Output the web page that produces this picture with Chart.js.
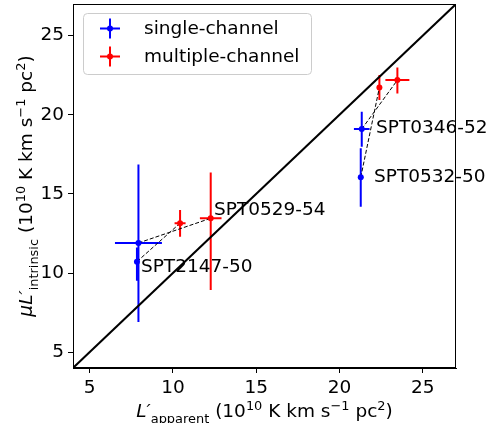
<!DOCTYPE html>
<html>
<head>
<meta charset="utf-8">
<script src="https://cdn.jsdelivr.net/npm/chart.js@4.4.1/dist/chart.umd.min.js"></script>
<style>
  html, body { margin: 0; padding: 0; background: #fff; }
  #wrap { width: 493px; height: 423px; }
</style>
</head>
<body>
<div id="wrap"><canvas id="lumChart" width="493" height="423"></canvas></div>
<script>
// CO luminosities per source (10^10 K km s^-1 pc^2)
const sources = ["SPT0529-54", "SPT2147-50", "SPT0346-52", "SPT0532-50"];

const singleApparent = [7.93, 7.84, 21.34, 21.28];
const singleApparentErr = [1.41, 0.1, 0.47, 0.15];
const singleIntrinsic = [11.9, 10.72, 19.10, 16.05];
const singleIntrinsicErrLow = [4.99, 1.2, 1.12, 1.86];
const singleIntrinsicErrHigh = [4.96, 0.9, 1.09, 1.83];

const multiApparent = [12.27, 10.43, 23.48, 22.40];
const multiApparentErr = [0.65, 0.33, 0.72, 0.1];
const multiIntrinsic = [13.46, 13.15, 22.19, 21.73];
const multiIntrinsicErrLow = [4.53, 0.85, 0.84, 0.8];
const multiIntrinsicErrHigh = [2.9, 0.84, 0.8, 0.78];

// where each source name is written (data units)
const labelX = [12.47, 8.08, 22.2, 22.08];
const labelY = [13.98, 10.38, 19.16, 16.07];

const oneToOne = [4, 27];
const xTickValues = [5, 10, 15, 20, 25];
const yTickValues = [5, 10, 15, 20, 25];

const FONT = "DejaVu Sans";
const FS = 18.5;

const toPoints = (xs, ys) => xs.map((v, i) => ({ x: v, y: ys[i] }));

const datasets = [
  {
    label: "single-channel",
    data: toPoints(singleApparent, singleIntrinsic),
    errX: singleApparentErr,
    errYLow: singleIntrinsicErrLow,
    errYHigh: singleIntrinsicErrHigh,
    backgroundColor: "#0000ff",
    borderColor: "#0000ff",
    borderWidth: 0,
    pointRadius: 3,
    order: 0
  },
  {
    label: "multiple-channel",
    data: toPoints(multiApparent, multiIntrinsic),
    errX: multiApparentErr,
    errYLow: multiIntrinsicErrLow,
    errYHigh: multiIntrinsicErrHigh,
    backgroundColor: "#ff0000",
    borderColor: "#ff0000",
    borderWidth: 0,
    pointRadius: 3,
    order: 0
  },
  {
    label: "1:1",
    data: toPoints(oneToOne, oneToOne),
    showLine: true,
    borderColor: "#000",
    borderWidth: 2,
    pointRadius: 0,
    order: 2
  }
];

// dashed link between the two measurements of each source
sources.forEach((name, i) => {
  datasets.push({
    label: name,
    data: [
      { x: singleApparent[i], y: singleIntrinsic[i] },
      { x: multiApparent[i], y: multiIntrinsic[i] }
    ],
    showLine: true,
    borderColor: "#000",
    borderWidth: 1,
    borderDash: [4, 2],
    pointRadius: 0,
    order: 1
  });
});

const errorBars = {
  id: "errorBars",
  beforeDatasetsDraw(chart) {
    const { ctx, scales: { x, y } } = chart;
    chart.data.datasets.forEach(ds => {
      if (!ds.errX) return;
      ctx.save();
      ctx.strokeStyle = ds.borderColor;
      ctx.lineWidth = 2;
      ds.data.forEach((p, j) => {
        const px = x.getPixelForValue(p.x);
        const py = y.getPixelForValue(p.y);
        ctx.beginPath();
        ctx.moveTo(x.getPixelForValue(p.x - ds.errX[j]), py);
        ctx.lineTo(x.getPixelForValue(p.x + ds.errX[j]), py);
        ctx.moveTo(px, y.getPixelForValue(p.y - ds.errYLow[j]));
        ctx.lineTo(px, y.getPixelForValue(p.y + ds.errYHigh[j]));
        ctx.stroke();
      });
      ctx.restore();
    });
  }
};

// writes a run of text pieces, some raised or lowered and smaller
function richWidth(ctx, parts) {
  let w = 0;
  parts.forEach(p => {
    ctx.font = `${p.italic ? "italic " : ""}${FS * (p.scale || 1)}px "${FONT}"`;
    w += ctx.measureText(p.t).width;
  });
  return w;
}
function drawRich(ctx, parts, cx, baseY) {
  let x = cx - richWidth(ctx, parts) / 2;
  parts.forEach(p => {
    ctx.font = `${p.italic ? "italic " : ""}${FS * (p.scale || 1)}px "${FONT}"`;
    ctx.fillText(p.t, x, baseY + (p.dy || 0));
    x += ctx.measureText(p.t).width;
  });
}

const unitParts = [
  { t: " (10" },
  { t: "10", scale: 0.7, dy: -7 },
  { t: " K km s" },
  { t: "\u22121", scale: 0.7, dy: -7 },
  { t: " pc" },
  { t: "2", scale: 0.7, dy: -7 },
  { t: ")" }
];
const xTitle = [
  { t: "L\u2032", italic: true },
  { t: "apparent", scale: 0.7, dy: 6 },
  ...unitParts
];
const yTitle = [
  { t: "\u03bcL\u2032", italic: true },
  { t: "intrinsic", scale: 0.7, dy: 6 },
  ...unitParts
];

const decorations = {
  id: "decorations",
  afterDraw(chart) {
    const { ctx, chartArea: a, scales: { x, y } } = chart;
    ctx.save();
    // axes frame
    ctx.strokeStyle = "#000";
    ctx.lineWidth = 1;
    ctx.strokeRect(a.left + 0.5, a.top + 0.5, a.right - a.left - 1, a.bottom - a.top - 1);

    // source names
    ctx.fillStyle = "#000";
    ctx.font = `${FS}px "${FONT}"`;
    ctx.textBaseline = "middle";
    ctx.textAlign = "left";
    sources.forEach((name, i) => {
      ctx.fillText(name, x.getPixelForValue(labelX[i]), y.getPixelForValue(labelY[i]));
    });

    // axis titles
    ctx.textBaseline = "alphabetic";
    drawRich(ctx, xTitle, (a.left + a.right) / 2, 417);
    ctx.save();
    ctx.translate(32, (a.top + a.bottom) / 2);
    ctx.rotate(-Math.PI / 2);
    drawRich(ctx, yTitle, 0, 0);
    ctx.restore();

    // legend
    ctx.beginPath();
    ctx.roundRect(83.5, 13.5, 228, 61, 4);
    ctx.fillStyle = "rgba(255,255,255,0.8)";
    ctx.fill();
    ctx.strokeStyle = "#cccccc";
    ctx.stroke();
    [datasets[0], datasets[1]].forEach((ds, k) => {
      const cy = 28.5 + k * 28;
      const cx = 110;
      ctx.strokeStyle = ds.borderColor;
      ctx.lineWidth = 2;
      ctx.beginPath();
      ctx.moveTo(cx - 10, cy);
      ctx.lineTo(cx + 10, cy);
      ctx.moveTo(cx, cy - 10);
      ctx.lineTo(cx, cy + 10);
      ctx.stroke();
      ctx.fillStyle = ds.backgroundColor;
      ctx.beginPath();
      ctx.arc(cx, cy, 3, 0, Math.PI * 2);
      ctx.fill();
      ctx.fillStyle = "#000";
      ctx.font = `${FS}px "${FONT}"`;
      ctx.textBaseline = "middle";
      ctx.fillText(ds.label, 144, cy + 1);
    });
    ctx.restore();
  }
};

const axisCommon = {
  type: "linear",
  min: 4,
  max: 27,
  grid: { display: true, drawOnChartArea: false, drawTicks: true, tickLength: 5, color: "#000", lineWidth: 1 },
  border: { display: true, color: "#000", width: 1 },
  ticks: { color: "#000", font: { family: FONT, size: FS }, padding: 4 }
};

new Chart(document.getElementById("lumChart"), {
  type: "scatter",
  data: { datasets },
  options: {
    responsive: false,
    animation: false,
    devicePixelRatio: 1,
    layout: { padding: { top: 4, right: 37, left: 0, bottom: 0 } },
    plugins: {
      legend: { display: false },
      tooltip: { enabled: false }
    },
    scales: {
      x: {
        ...axisCommon,
        afterBuildTicks: s => { s.ticks = xTickValues.map(v => ({ value: v })); },
        afterFit: s => { s.height = 55; s.paddingLeft = 0; s.paddingRight = 0; }
      },
      y: {
        ...axisCommon,
        afterBuildTicks: s => { s.ticks = yTickValues.map(v => ({ value: v })); },
        afterFit: s => { s.width = 73; s.paddingTop = 0; s.paddingBottom = 0; }
      }
    }
  },
  plugins: [errorBars, decorations]
});
</script>
</body>
</html>
